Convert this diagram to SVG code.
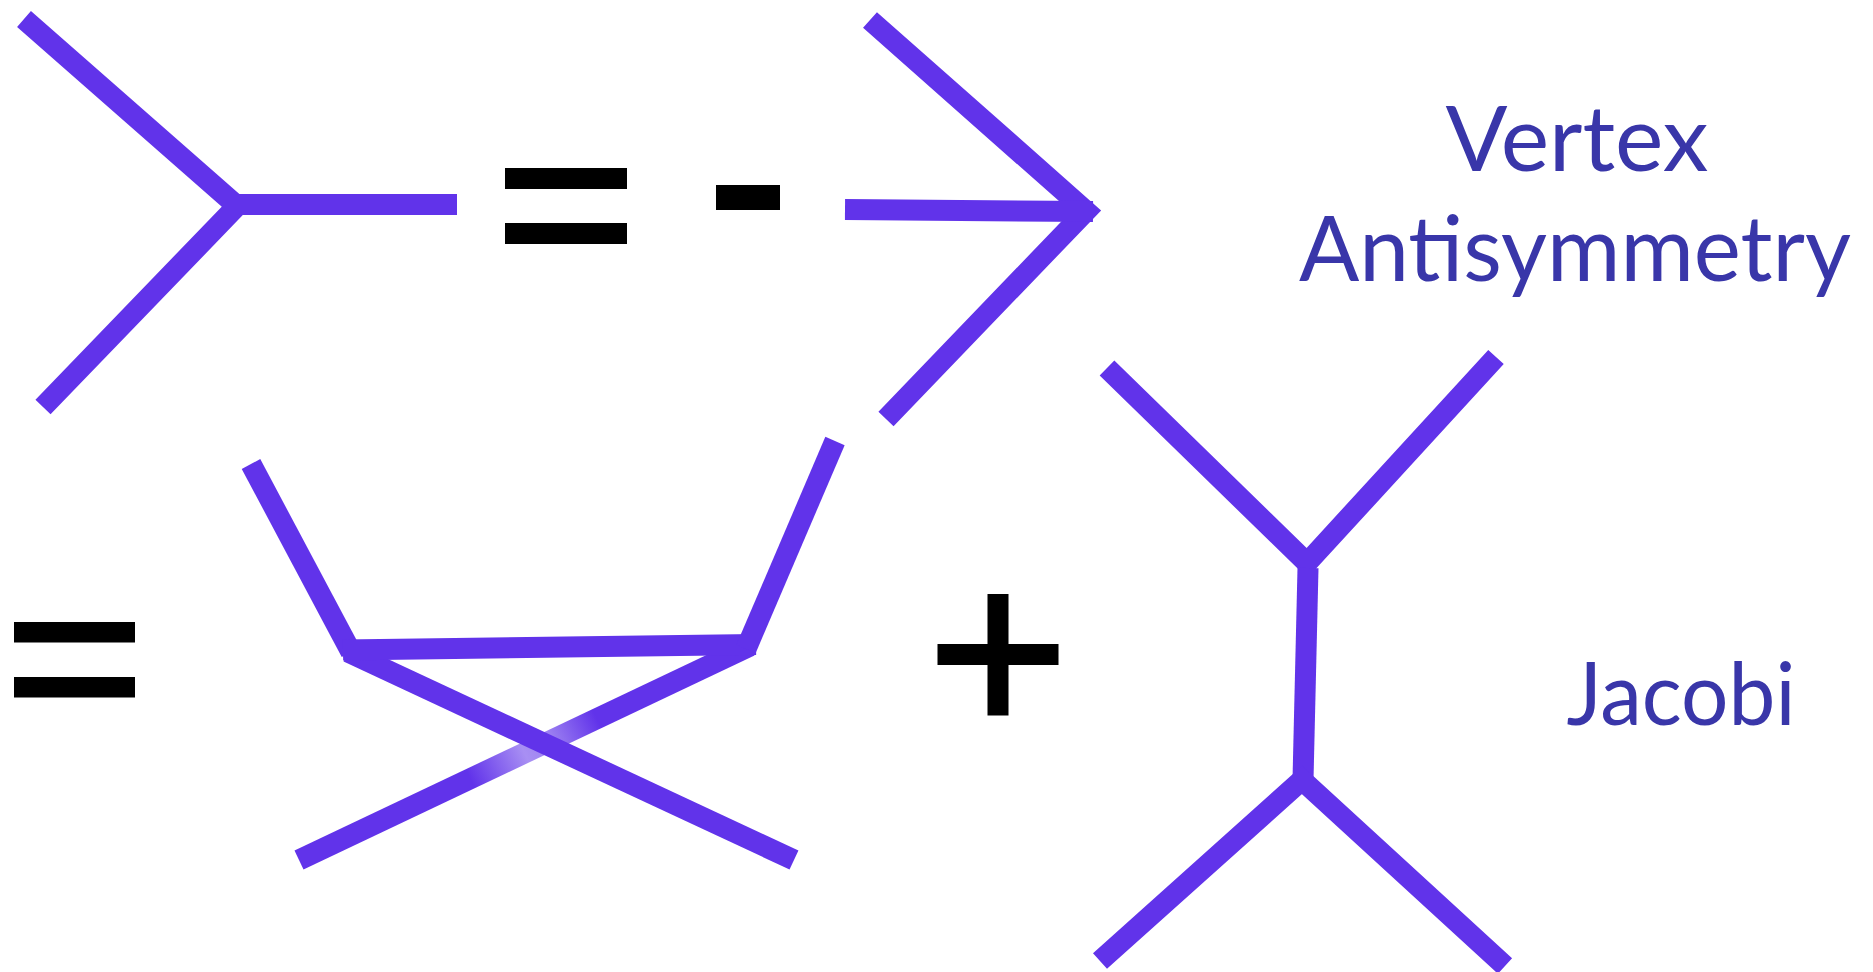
<svg xmlns="http://www.w3.org/2000/svg" width="1873" height="972" viewBox="0 0 1873 972">
  <style>
    .ln { fill: none; stroke: #6133EA; stroke-width: 21; stroke-linecap: butt; stroke-linejoin: miter; stroke-miterlimit: 10; }
    .sym { fill: #000000; }
    .lbl { fill: #3936A9; font-family: Lato, "Open Sans", "Liberation Sans", sans-serif; font-size: 92px; text-anchor: middle; }
  </style>
  <defs>
    <linearGradient id="fadeB" gradientUnits="userSpaceOnUse" x1="299" y1="860" x2="750" y2="646">
      <stop offset="0" stop-color="#6133EA"/>
      <stop offset="0.38" stop-color="#6133EA"/>
      <stop offset="0.5" stop-color="#A88FF3"/>
      <stop offset="0.56" stop-color="#9C80F1"/>
      <stop offset="0.66" stop-color="#6133EA"/>
      <stop offset="1" stop-color="#6133EA"/>
    </linearGradient>
  </defs>
  <rect width="1873" height="972" fill="#ffffff"/>

  <g id="vertex-left">
    <polyline class="ln" points="24,19 237,206 43,407"/>
    <line class="ln" x1="236" y1="204.5" x2="457" y2="204.5"/>
  </g>

  <g id="equals-top">
    <rect class="sym" x="505" y="168" width="122" height="21"/>
    <rect class="sym" x="505" y="223" width="122" height="21"/>
  </g>

  <g id="minus">
    <rect class="sym" x="716" y="185" width="64" height="25"/>
  </g>

  <g id="vertex-right">
    <polyline class="ln" points="870,20 1086,211 886,419"/>
    <line class="ln" x1="845" y1="209.5" x2="1093" y2="211.5"/>
  </g>

  <g id="label-vertex">
    <text class="lbl" x="1577" y="171" textLength="263" lengthAdjust="spacingAndGlyphs">Vertex</text>
    <text class="lbl" x="1575" y="281" textLength="552" lengthAdjust="spacingAndGlyphs">Antisymmetry</text>
  </g>

  <g id="equals-bottom">
    <rect class="sym" x="14" y="622" width="121" height="20.5"/>
    <rect class="sym" x="14" y="677" width="121" height="20.5"/>
  </g>

  <g id="diagram-u-crossed">
    <line class="ln" x1="299" y1="860" x2="750" y2="646" style="stroke:url(#fadeB)"/>
    <line class="ln" x1="348" y1="652" x2="794" y2="860"/>
    <line class="ln" x1="251" y1="464" x2="351" y2="652"/>
    <line class="ln" x1="343" y1="650" x2="756" y2="644.5"/>
    <line class="ln" x1="746" y1="649" x2="835" y2="441"/>
  </g>

  <g id="plus">
    <rect class="sym" x="987.5" y="594" width="21" height="121.5"/>
    <rect class="sym" x="937.5" y="644" width="121" height="21"/>
  </g>

  <g id="diagram-s-channel">
    <polyline class="ln" points="1107,368 1307,563 1496,357"/>
    <line class="ln" x1="1308" y1="568" x2="1303" y2="780"/>
    <polyline class="ln" points="1100,961 1302,780 1505,966"/>
  </g>

  <g id="label-jacobi">
    <text class="lbl" x="1681" y="725" textLength="229" lengthAdjust="spacingAndGlyphs" style="font-size:88px">Jacobi</text>
  </g>
</svg>
